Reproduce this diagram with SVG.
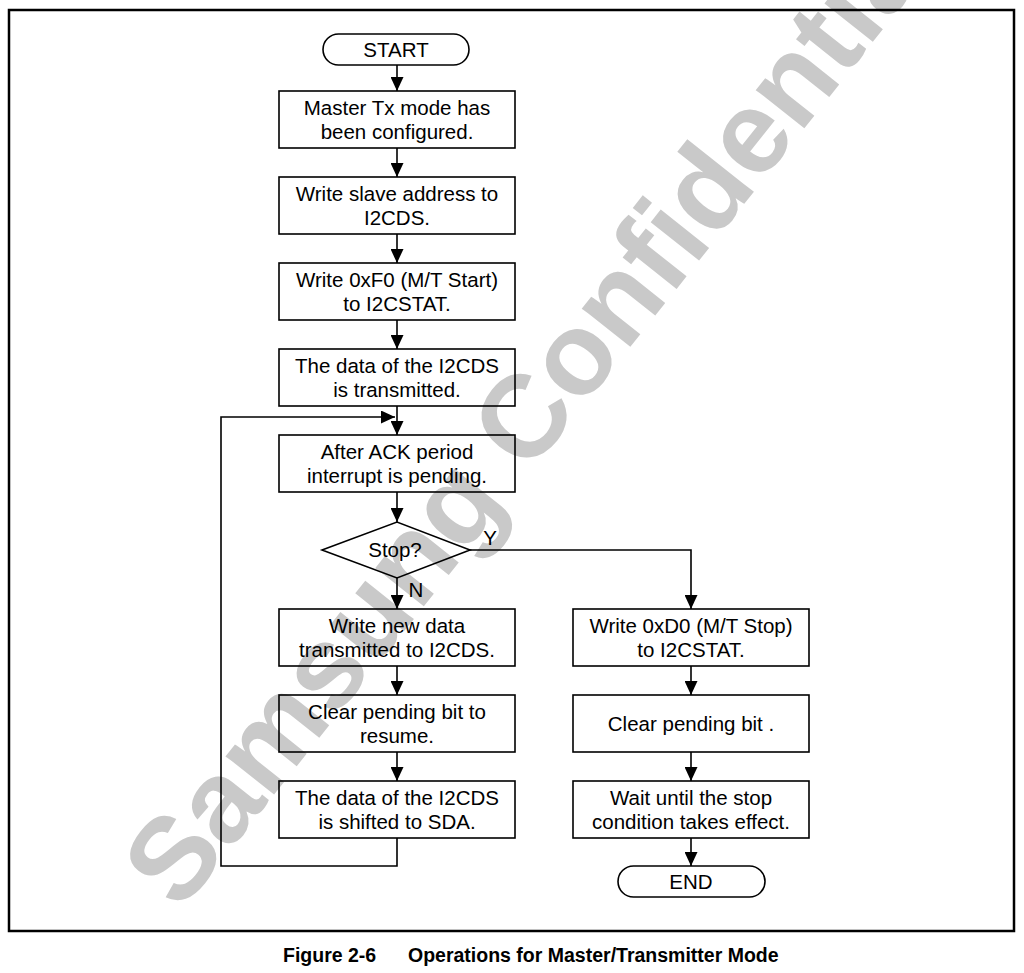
<svg xmlns="http://www.w3.org/2000/svg" width="1024" height="973" viewBox="0 0 1024 973">
<defs>
<marker id="ah" viewBox="0 0 14 13" refX="14" refY="6.5" markerWidth="14" markerHeight="13" markerUnits="userSpaceOnUse" orient="auto">
<path d="M0,0 L14,6.5 L0,13 z" fill="#000"/>
</marker>
<style>
.bx{fill:none;stroke:#000;stroke-width:1.6}
.t{font-family:"Liberation Sans",Arial,sans-serif;font-size:20.5px;fill:#000;text-anchor:middle}
.c{fill:none;stroke:#000;stroke-width:1.6;marker-end:url(#ah)}
.wm{font-family:"Liberation Sans",Arial,sans-serif;font-weight:bold;font-size:117px;fill:#c9c9c9}
.cap{font-family:"Liberation Sans",Arial,sans-serif;font-weight:bold;font-size:19.5px;fill:#000}
</style>
</defs>
<rect width="1024" height="973" fill="#fff"/>
<text class="wm" transform="translate(180,913) rotate(-51.5)">Samsung Confidential</text>
<rect x="9" y="10" width="1005" height="921" fill="none" stroke="#000" stroke-width="2.5"/>

<g id="start"><rect class="bx" x="323" y="34" width="146" height="31" rx="15.5"/><text class="t" x="396" y="57">START</text></g>
<g id="n1"><rect class="bx" x="279" y="91" width="236" height="57"/><text class="t" x="397" y="115">Master Tx mode has</text><text class="t" x="397" y="139">been configured.</text></g>
<g id="n2"><rect class="bx" x="279" y="177" width="236" height="57"/><text class="t" x="397" y="201">Write slave address to</text><text class="t" x="397" y="225">I2CDS.</text></g>
<g id="n3"><rect class="bx" x="279" y="263" width="236" height="57"/><text class="t" x="397" y="287">Write 0xF0 (M/T Start)</text><text class="t" x="397" y="311">to I2CSTAT.</text></g>
<g id="n4"><rect class="bx" x="279" y="349" width="236" height="57"/><text class="t" x="397" y="373">The data of the I2CDS</text><text class="t" x="397" y="397">is transmitted.</text></g>
<g id="n5"><rect class="bx" x="279" y="435" width="236" height="57"/><text class="t" x="397" y="459">After ACK period</text><text class="t" x="397" y="483">interrupt is pending.</text></g>
<g id="d1"><polygon class="bx" points="322,550 397,522 470,550 397,578"/><text class="t" x="395" y="557">Stop?</text></g>
<g id="n6"><rect class="bx" x="279" y="609" width="236" height="57"/><text class="t" x="397" y="633">Write new data</text><text class="t" x="397" y="657">transmitted to I2CDS.</text></g>
<g id="n7"><rect class="bx" x="279" y="695" width="236" height="57"/><text class="t" x="397" y="719">Clear pending bit to</text><text class="t" x="397" y="743">resume.</text></g>
<g id="n8"><rect class="bx" x="279" y="781" width="236" height="57"/><text class="t" x="397" y="805">The data of the I2CDS</text><text class="t" x="397" y="829">is shifted to SDA.</text></g>
<g id="n9"><rect class="bx" x="573" y="609" width="236" height="57"/><text class="t" x="691" y="633">Write 0xD0 (M/T Stop)</text><text class="t" x="691" y="657">to I2CSTAT.</text></g>
<g id="n10"><rect class="bx" x="573" y="695" width="236" height="57"/><text class="t" x="691" y="731">Clear pending bit .</text></g>
<g id="n11"><rect class="bx" x="573" y="781" width="236" height="57"/><text class="t" x="691" y="805">Wait until the stop</text><text class="t" x="691" y="829">condition takes effect.</text></g>
<g id="end"><rect class="bx" x="618" y="866" width="147" height="31" rx="15.5"/><text class="t" x="691" y="889">END</text></g>

<g id="connectors">
<path class="c" d="M397,65 V91"/>
<path class="c" d="M397,148 V177"/>
<path class="c" d="M397,234 V263"/>
<path class="c" d="M397,320 V349"/>
<path class="c" d="M397,406 V435"/>
<path class="c" d="M397,492 V522"/>
<path class="c" d="M397,578 V609"/>
<path class="c" d="M470,550 H691 V609"/>
<path class="c" d="M397,666 V695"/>
<path class="c" d="M397,752 V781"/>
<path class="c" d="M397,838 V866 H221 V417 H395"/>
<path class="c" d="M691,666 V695"/>
<path class="c" d="M691,752 V781"/>
<path class="c" d="M691,838 V866"/>
<text class="t" x="490" y="545">Y</text>
<text class="t" x="416" y="597">N</text>
</g>

<text class="cap" x="283" y="962">Figure 2-6</text>
<text class="cap" x="408" y="962">Operations for Master/Transmitter Mode</text>
</svg>
